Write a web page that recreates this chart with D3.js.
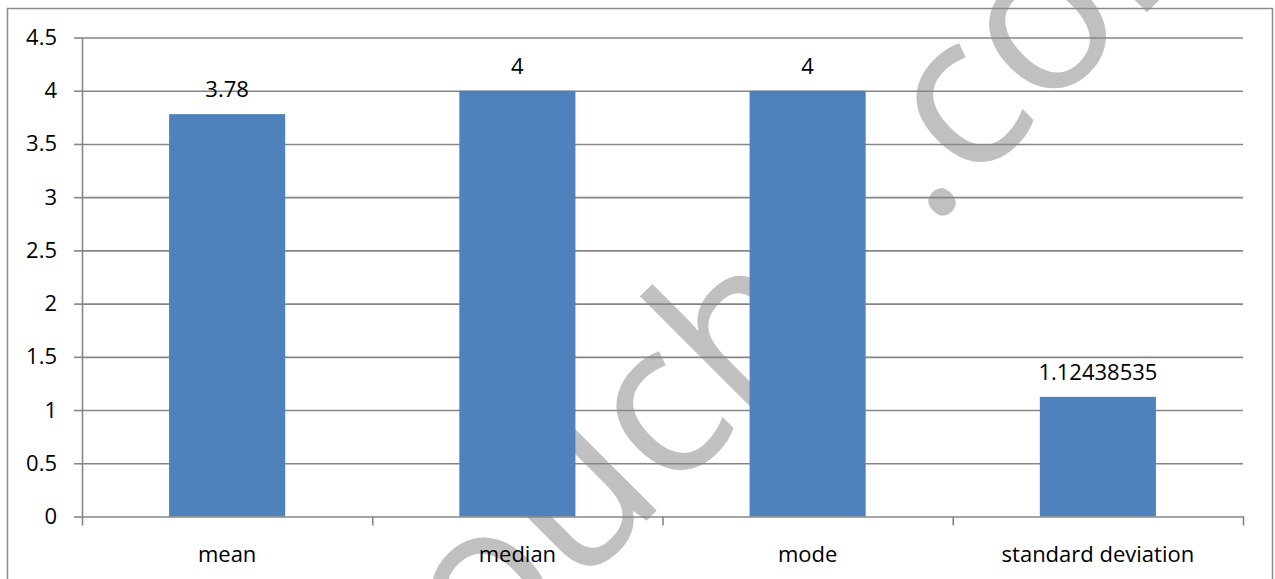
<!DOCTYPE html>
<html>
<head>
<meta charset="utf-8">
<script src="https://cdn.jsdelivr.net/npm/d3@7"></script>
<style>
  html, body { margin: 0; padding: 0; background: #ffffff; }
  svg { display: block; }
  text { font-family: "Open Sans", "Liberation Sans", sans-serif; }
</style>
</head>
<body>
<svg id="chart" width="1275" height="579"></svg>
<script>
// Summary statistics shown as a single bar series
const categories = ["mean", "median", "mode", "standard deviation"];
const values = [3.78, 4, 4, 1.12438535];
const valueLabels = ["3.78", "4", "4", "1.12438535"];
const yTickValues = [0, 0.5, 1, 1.5, 2, 2.5, 3, 3.5, 4, 4.5];
const yTickLabels = ["0", "0.5", "1", "1.5", "2", "2.5", "3", "3.5", "4", "4.5"];
const watermarkParts = ["touch", ".com"];

const W = 1275, H = 579;
const plot = { left: 82, right: 1243, top: 37.5, bottom: 516.5 };
const gridColor = "#868686";
const barColor = "#4f81bd";
const fontSize = 22;

const svg = d3.select("#chart");

svg.append("rect").attr("x", 0).attr("y", 0).attr("width", W).attr("height", H).attr("fill", "#ffffff");

// Faint site mark behind the chart, rotated; each part is anchored on its "c"
const wmSize = 215;
const wmAnchors = [[665, 420], [965, 112]];
watermarkParts.forEach((part, k) => {
  const t = svg.append("text")
    .text(part)
    .attr("font-size", wmSize)
    .attr("font-weight", 400)
    .attr("fill", "#c0c0c0");
  const node = t.node();
  const ci = part.indexOf("c");
  const s = node.getStartPositionOfChar(ci);
  const e = node.getEndPositionOfChar(ci);
  const cx = (s.x + e.x) / 2;
  const cy = s.y - 0.27 * wmSize;
  const [ax, ay] = wmAnchors[k];
  t.attr("transform", `translate(${ax},${ay}) rotate(-45) translate(${-cx},${-cy})`);
});

// Chart frame
svg.append("rect")
  .attr("x", 7.5).attr("y", 8.5)
  .attr("width", 1265).attr("height", 600)
  .attr("fill", "none")
  .attr("stroke", "#8a8a8a")
  .attr("stroke-width", 1.5);

const y = d3.scaleLinear().domain([0, 4.5]).range([plot.bottom, plot.top]);
const x = d3.scaleBand().domain(categories)
  .range([plot.left, plot.right])
  .paddingInner(0.6).paddingOuter(0.3);
const xEdges = d3.scaleLinear().domain([0, categories.length]).range([plot.left, plot.right]);

// Horizontal gridlines
const grid = svg.append("g")
  .attr("transform", `translate(${plot.left},0)`)
  .call(d3.axisLeft(y).tickValues(yTickValues.filter(v => v > 0))
    .tickSize(-(plot.right - plot.left)).tickFormat(""));
grid.select(".domain").remove();
grid.selectAll(".tick line").attr("stroke", gridColor).attr("stroke-width", 1.6);

// Bars
svg.append("g").selectAll("rect")
  .data(values)
  .join("rect")
  .attr("x", (d, i) => x(categories[i]))
  .attr("width", x.bandwidth())
  .attr("y", d => y(d))
  .attr("height", d => y(0) - y(d))
  .attr("fill", barColor);

// Y axis
const yAxis = svg.append("g")
  .attr("transform", `translate(${plot.left},0)`)
  .call(d3.axisLeft(y).tickValues(yTickValues)
    .tickFormat((d, i) => yTickLabels[i])
    .tickSizeInner(8).tickSizeOuter(0).tickPadding(17));
yAxis.select(".domain").attr("stroke", gridColor).attr("stroke-width", 1.6);
yAxis.selectAll(".tick line").attr("stroke", gridColor).attr("stroke-width", 1.6);
yAxis.selectAll(".tick text")
  .attr("font-size", fontSize).attr("fill", "#000")
  .attr("font-family", "Open Sans");

// X axis line with ticks between categories
const xAxisEdges = svg.append("g")
  .attr("transform", `translate(0,${plot.bottom})`)
  .call(d3.axisBottom(xEdges).tickValues(d3.range(categories.length + 1))
    .tickSizeInner(9).tickSizeOuter(0).tickFormat(""));
xAxisEdges.select(".domain").attr("stroke", gridColor).attr("stroke-width", 1.6);
xAxisEdges.selectAll(".tick line").attr("stroke", gridColor).attr("stroke-width", 1.6);

// Category labels
const xAxis = svg.append("g")
  .attr("transform", `translate(0,${plot.bottom})`)
  .call(d3.axisBottom(x).tickSize(0).tickPadding(30));
xAxis.select(".domain").remove();
xAxis.selectAll(".tick text")
  .attr("font-size", fontSize).attr("fill", "#000")
  .attr("font-family", "Open Sans");

// Value labels above bars
svg.append("g").selectAll("text")
  .data(values)
  .join("text")
  .attr("x", (d, i) => x(categories[i]) + x.bandwidth() / 2)
  .attr("y", d => y(d) - 16.7)
  .attr("text-anchor", "middle")
  .attr("font-size", fontSize)
  .attr("fill", "#000")
  .text((d, i) => valueLabels[i]);
</script>
</body>
</html>
